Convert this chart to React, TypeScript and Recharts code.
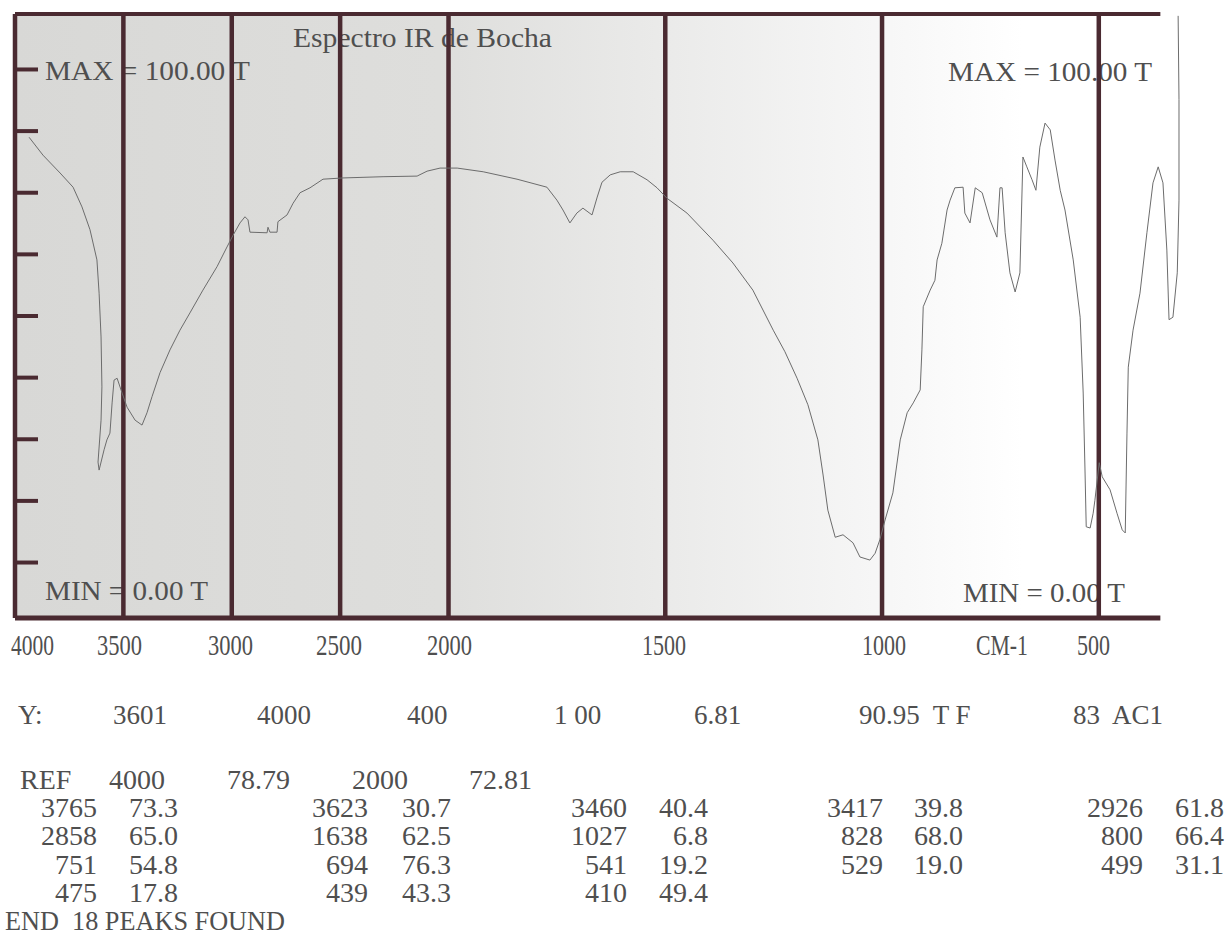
import { Line, LineChart, ReferenceLine, XAxis, YAxis } from 'recharts'

// spectrum trace (cm-1, %T)
const WAVENUMBERS = [
  3935, 3871, 3792, 3732, 3691, 3654, 3622, 3612, 3603, 3599, 3603, 3617, 3612, 3589, 3576, 3562, 3552, 3543, 3529, 3506,
  3483, 3446, 3414, 3391, 3368, 3331, 3285, 3239, 3193, 3133, 3068, 3022, 2994, 2962, 2939, 2925, 2916, 2837, 2833, 2824,
  2791, 2787, 2745, 2717, 2685, 2639, 2579, 2487, 2302, 2145, 2099, 2039, 1980, 1920, 1842, 1773, 1750, 1736, 1720, 1704,
  1690, 1669, 1657, 1646, 1627, 1604, 1574, 1542, 1519, 1496, 1450, 1390, 1344, 1298, 1251, 1224, 1196, 1171, 1148, 1136,
  1125, 1108, 1090, 1067, 1051, 1028, 1016, 1005, 993, 975, 958, 942, 928, 912, 908, 905, 889, 878, 873, 862,
  850, 843, 832, 813, 809, 797, 785, 769, 751, 735, 728, 723, 716, 705, 693, 682, 675, 666, 654, 645,
  636, 624, 612, 601, 589, 578, 559, 543, 536, 532, 529, 520, 513, 509, 499, 492, 474, 458, 446, 439,
  435, 432, 421, 405, 389, 375, 363, 352, 343, 338, 329, 319, 315, 315, 317,
]
const TRANSMITTANCE = [
  79.0, 76.1, 73.2, 70.9, 67.7, 64.0, 59.1, 53.7, 46.6, 38.5, 33.1, 26.3, 25.0, 28.3, 29.9, 31.0, 35.9, 39.6, 39.9, 37.5,
  35.2, 33.1, 32.3, 34.3, 36.9, 40.8, 44.5, 47.7, 50.5, 54.2, 58.0, 61.2, 63.1, 65.1, 66.1, 65.6, 63.6, 63.5, 64.4, 63.6,
  63.6, 65.3, 66.4, 68.3, 70.0, 70.8, 72.2, 72.4, 72.6, 72.7, 73.5, 74.0, 74.0, 73.4, 72.2, 70.9, 68.8, 67.2, 65.1, 66.7,
  67.5, 66.4, 69.3, 71.7, 72.9, 73.4, 73.4, 72.1, 70.8, 69.1, 66.7, 62.3, 58.6, 54.2, 47.7, 44.2, 39.9, 35.6, 29.9, 24.2,
  18.5, 14.1, 14.5, 13.2, 10.9, 10.4, 11.5, 13.7, 16.9, 21.3, 29.9, 34.3, 35.9, 38.0, 44.5, 51.5, 54.2, 55.8, 59.1, 61.8,
  67.2, 68.8, 70.8, 70.9, 66.7, 65.1, 70.8, 70.0, 65.6, 62.8, 70.8, 70.8, 63.5, 57.0, 53.9, 57.0, 75.8, 74.2, 72.1, 70.4,
  77.4, 81.3, 80.2, 75.3, 70.4, 67.2, 59.1, 49.8, 37.5, 25.5, 15.8, 15.6, 18.0, 20.1, 26.2, 23.9, 21.8, 18.0, 15.3, 14.8,
  31.0, 41.7, 47.7, 53.7, 63.5, 71.6, 74.2, 71.6, 60.7, 49.4, 49.8, 57.0, 68.8, 85.1, 98.7,
]

const GRID_WAVENUMBERS = [3500, 3000, 2500, 2000, 1500, 1000, 500]
const T_TICKS = [10, 20, 30, 40, 50, 60, 70, 80, 90]
const FRAME_END = 358
const TICK_SPAN = 106 // length of the left tick stubs, in axis units

const X_LABELS = ['4000', '3500', '3000', '2500', '2000', '1500', '1000', 'CM-1', '500']
const X_LABEL_LEFT = [11, 97, 208, 316, 427, 642, 862, 976, 1077]
const X_LABEL_WIDTH = [43, 45, 45, 46, 45, 44, 44, 52, 33]

const Y_ROW = ['Y:', '3601', '4000', '400', '1 00', '6.81', '90.95  T F', '83  AC1']
const Y_ROW_LEFT = [18, 113, 257, 407, 554, 694, 859, 1073]

const REF_ROW = ['REF', '4000', '78.79', '2000', '72.81']
const REF_ROW_LEFT = [20, 109, 227, 352, 469]

const PEAK_WN = ['3765', '3623', '3460', '3417', '2926', '2858', '1638', '1027', '828', '800', '751', '694', '541', '529', '499', '475', '439', '410']
const PEAK_T = ['73.3', '30.7', '40.4', '39.8', '61.8', '65.0', '62.5', '6.8', '68.0', '66.4', '54.8', '76.3', '19.2', '19.0', '31.1', '17.8', '43.3', '49.4']
const COL_WN_RIGHT = [97, 368, 627, 883, 1143]
const COL_T_RIGHT = [178, 451, 708, 963, 1224]

const FRAME = '#4a2a31'
const INK = '#4f4f4f'
const FONT = '"Liberation Serif", "DejaVu Serif", serif'

// the printout switches scale at 2000 cm-1 (twice as wide below it)
function toAxis(wn: number) {
  return wn >= 2000 ? 4000 - wn : 2000 + (2000 - wn) * 2
}

const data = WAVENUMBERS.map((wn, i) => ({ u: toAxis(wn), t: TRANSMITTANCE[i] }))

function Label({ x, y, text, size, width, anchor }: { x: number; y: number; text: string; size: number; width?: number; anchor?: 'start' | 'end' }) {
  return (
    <text
      x={x}
      y={y}
      fontSize={size}
      fontFamily={FONT}
      fill={INK}
      textAnchor={anchor ?? 'start'}
      textLength={width}
      lengthAdjust={width ? 'spacingAndGlyphs' : undefined}
      style={{ whiteSpace: 'pre' }}
    >
      {text}
    </text>
  )
}

export default function App() {
  return (
    <div style={{ position: 'absolute', left: 0, top: 0, width: 1226, height: 950, background: '#fff' }}>
      <svg width={1226} height={950} style={{ position: 'absolute', left: 0, top: 0 }}>
        <defs>
          <linearGradient id="paper" x1="0" y1="0" x2="1" y2="0">
            <stop offset="0" stopColor="#d8d8d6" />
            <stop offset="0.37" stopColor="#dededc" />
            <stop offset="0.56" stopColor="#eaeae9" />
            <stop offset="0.75" stopColor="#f6f6f6" />
            <stop offset="0.88" stopColor="#ffffff" />
          </linearGradient>
        </defs>
        <rect x={15} y={14} width={1145} height={604} fill="url(#paper)" />

        <Label x={293} y={47} text="Espectro IR de Bocha" size={27} width={259} />
        <Label x={45} y={80} text="MAX = 100.00 T" size={27} width={205} />
        <Label x={948} y={81} text="MAX = 100.00 T" size={27} width={204} />
        <Label x={45} y={600} text="MIN = 0.00 T" size={27} width={163} />
        <Label x={963} y={602} text="MIN = 0.00 T" size={27} width={162} />

        {X_LABELS.map((label, i) => (
          <Label key={label} x={X_LABEL_LEFT[i]} y={655} text={label} size={30} width={X_LABEL_WIDTH[i]} />
        ))}

        {Y_ROW.map((label, i) => (
          <Label key={'y' + i} x={Y_ROW_LEFT[i]} y={724} text={label} size={27} />
        ))}

        {REF_ROW.map((label, i) => (
          <Label key={'r' + i} x={REF_ROW_LEFT[i]} y={789} text={label} size={28} />
        ))}

        {PEAK_WN.map((wn, i) => {
          const row = Math.floor(i / 5)
          const col = i % 5
          const y = 817 + row * 28.3
          return (
            <g key={'p' + i}>
              <Label x={COL_WN_RIGHT[col]} y={y} text={wn} size={28} anchor="end" />
              <Label x={COL_T_RIGHT[col]} y={y} text={PEAK_T[i]} size={28} anchor="end" />
            </g>
          )
        })}

        <Label x={5} y={930} text="END  18 PEAKS FOUND" size={28} width={280} />
      </svg>

      <div style={{ position: 'absolute', left: 0, top: 0 }}>
        <LineChart width={1226} height={950} data={data} margin={{ top: 14, right: 40.5, bottom: 332, left: 15 }}>
          <XAxis dataKey="u" type="number" domain={[0, 5400]} allowDataOverflow hide />
          <YAxis
            type="number"
            domain={[1, 99]}
            ticks={T_TICKS}
            allowDataOverflow
            mirror
            tick={false}
            tickLine={false}
            axisLine={{ stroke: FRAME, strokeWidth: 4.5 }}
          />
          {T_TICKS.map((v) => (
            <ReferenceLine
              key={'t' + v}
              segment={[
                { x: 0, y: v },
                { x: TICK_SPAN, y: v },
              ]}
              stroke={FRAME}
              strokeWidth={4}
            />
          ))}
          {GRID_WAVENUMBERS.map((wn) => (
            <ReferenceLine key={wn} x={toAxis(wn)} stroke={FRAME} strokeWidth={4.5} />
          ))}
          <ReferenceLine
            segment={[
              { x: 0, y: 99 },
              { x: toAxis(FRAME_END), y: 99 },
            ]}
            stroke={FRAME}
            strokeWidth={4}
          />
          <ReferenceLine
            segment={[
              { x: 0, y: 1 },
              { x: toAxis(FRAME_END), y: 1 },
            ]}
            stroke={FRAME}
            strokeWidth={5}
          />
          <Line dataKey="t" type="linear" stroke="#6c6c6c" strokeWidth={1} dot={false} isAnimationActive={false} />
        </LineChart>
      </div>
    </div>
  )
}
